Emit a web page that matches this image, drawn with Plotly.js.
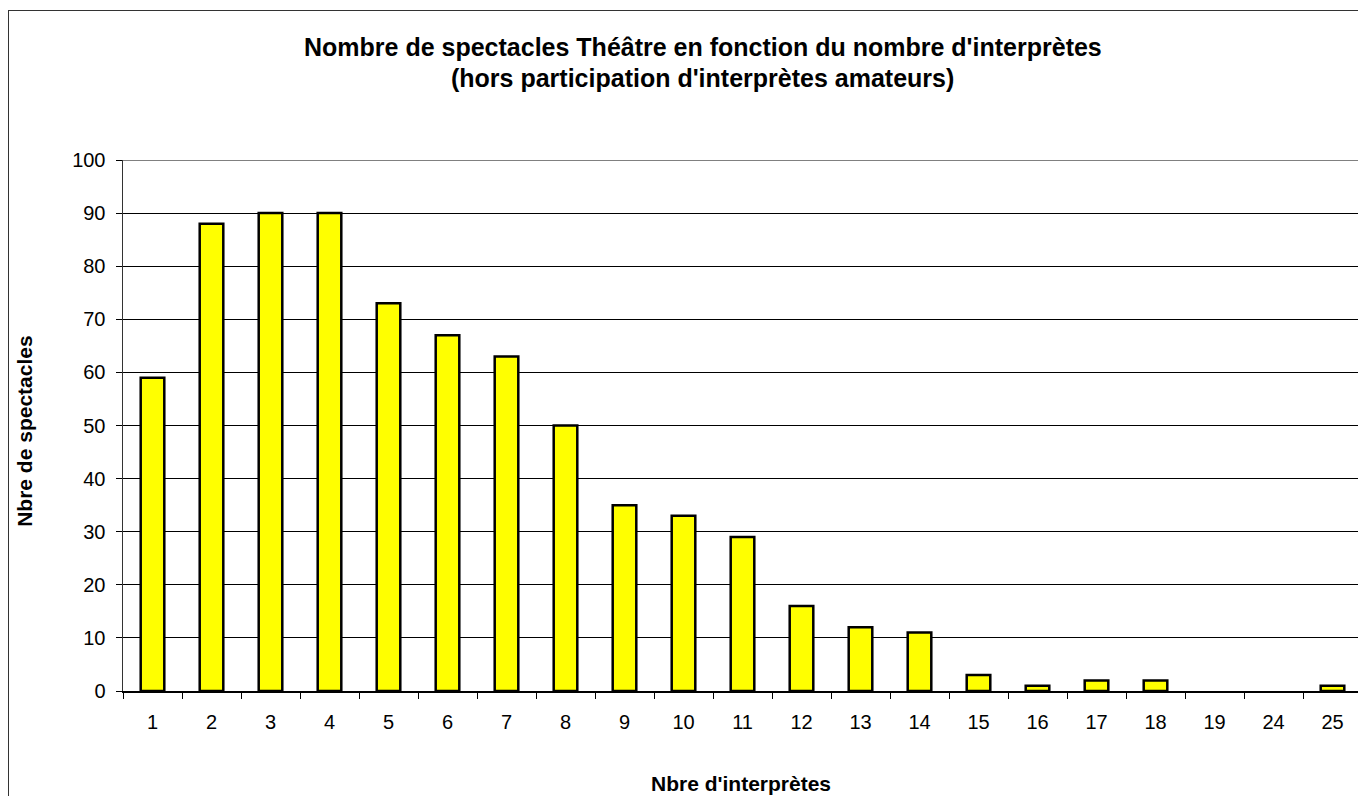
<!DOCTYPE html>
<html>
<head>
<meta charset="utf-8">
<script src="https://cdn.plot.ly/plotly-3.0.1.min.js"></script>
<style>
  html, body { margin: 0; padding: 0; background: #ffffff; overflow: hidden; width: 1358px; height: 796px; }
  #frame { position: absolute; left: 8px; top: 10px; width: 1400px; height: 800px; border-left: 1px solid #333333; border-top: 1px solid #333333; }
  #chart { position: absolute; left: 0; top: 0; width: 1398px; height: 800px; }
</style>
</head>
<body>
<div id="frame"><div id="chart"></div></div>
<script>
const categories = ["1","2","3","4","5","6","7","8","9","10","11","12","13","14","15","16","17","18","19","24","25"];
const spectacles = [59, 88, 90, 90, 73, 67, 63, 50, 35, 33, 29, 16, 12, 11, 3, 1, 2, 2, 0, 0, 1];
const yTicks = [0, 10, 20, 30, 40, 50, 60, 70, 80, 90, 100];
const titleLine1 = "Nombre de spectacles Théâtre en fonction du nombre d'interprètes";
const titleLine2 = "(hors participation d'interprètes amateurs)";
const xTitle = "Nbre d'interprètes";
const yTitle = "Nbre de spectacles";

const FONT = "'Liberation Sans', Arial, sans-serif";

const trace = {
  type: 'bar',
  x: categories,
  y: spectacles,
  marker: {
    color: '#FFFF00',
    line: { color: '#000000', width: spectacles.map(v => v > 0 ? 2.5 : 0) }
  },
  hoverinfo: 'x+y'
};

const layout = {
  width: 1398,
  height: 800,
  margin: { l: 114, r: 45, t: 149, b: 120, pad: 0 },
  paper_bgcolor: '#ffffff',
  plot_bgcolor: '#ffffff',
  font: { family: FONT, size: 20, color: '#000000' },
  showlegend: false,
  bargap: 0.6,
  xaxis: {
    type: 'category',
    tickson: 'boundaries',
    ticks: 'outside',
    ticklen: 6,
    tickwidth: 1,
    tickcolor: '#000000',
    showline: true,
    linecolor: '#000000',
    linewidth: 1.5,
    showgrid: false,
    zeroline: false,
    tickfont: { family: FONT, size: 20, color: '#000000' },
    ticklabelstandoff: 12,
    fixedrange: true
  },
  yaxis: {
    range: [0, 100],
    tickvals: yTicks,
    ticktext: yTicks.map(String),
    ticks: 'outside',
    ticklen: 6,
    tickwidth: 1,
    tickcolor: '#000000',
    showline: true,
    linecolor: '#333333',
    linewidth: 1.5,
    showgrid: true,
    gridcolor: '#000000',
    gridwidth: 1,
    zeroline: false,
    tickfont: { family: FONT, size: 20, color: '#000000' },
    ticklabelstandoff: 6,
    fixedrange: true
  },
  shapes: [
    { type: 'line', xref: 'paper', yref: 'y', x0: 0, x1: 1, y0: 100, y1: 100, line: { color: '#808080', width: 2 } }
  ],
  annotations: [
    { text: '<b>' + titleLine1 + '</b>', xref: 'paper', yref: 'paper', x: 0.468, y: 1.2128, xanchor: 'center', yanchor: 'middle', showarrow: false, font: { family: FONT, size: 25, color: '#000000' } },
    { text: '<b>' + titleLine2 + '</b>', xref: 'paper', yref: 'paper', x: 0.468, y: 1.1545, xanchor: 'center', yanchor: 'middle', showarrow: false, font: { family: FONT, size: 25, color: '#000000' } },
    { text: '<b>' + xTitle + '</b>', xref: 'paper', yref: 'paper', x: 0.4988, y: -0.175, xanchor: 'center', yanchor: 'middle', showarrow: false, font: { family: FONT, size: 21, color: '#000000' } },
    { text: '<b>' + yTitle + '</b>', xref: 'paper', yref: 'paper', x: -0.0791, y: 0.49, xanchor: 'center', yanchor: 'middle', textangle: -90, showarrow: false, font: { family: FONT, size: 21, color: '#000000' } }
  ]
};

Plotly.newPlot('chart', [trace], layout, { displayModeBar: false, staticPlot: true });
</script>
</body>
</html>
